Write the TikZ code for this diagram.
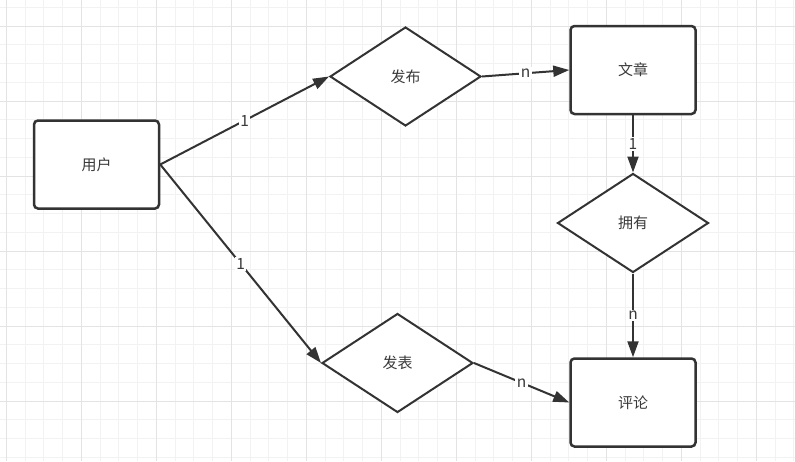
\documentclass[tikz,border=0pt]{standalone}
\usepackage{fontspec}
\setmainfont{Noto Sans CJK SC}
\usetikzlibrary{arrows.meta,shapes.geometric}
\definecolor{ink}{HTML}{333333}
\definecolor{txt}{HTML}{3A3A3A}
\definecolor{gridminor}{HTML}{F2F2F2}
\definecolor{gridmajor}{HTML}{E3E3E3}
\begin{document}
\begin{tikzpicture}[x=1pt,y=-1pt,
  entity/.style={draw=ink, line width=2.5pt, rounded corners=4pt, fill=white,
    minimum width=125pt, minimum height=88pt, inner sep=0pt,
    font=\fontsize{15}{18}\selectfont, text=txt},
  relation/.style={diamond, draw=ink, line width=2pt, fill=white,
    minimum width=151pt, minimum height=99pt, inner sep=0pt,
    font=\fontsize{15}{18}\selectfont, text=txt},
  conn/.style={draw=ink, line width=2pt, -{Triangle[length=16pt,width=11pt]}},
  lbl/.style={fill=white, inner sep=1.5pt, font=\fontsize{15.5}{18}\selectfont, text=txt},
  gminor/.style={draw=gridminor, line width=1pt},
  gmajor/.style={draw=gridmajor, line width=1pt}]
\fill[white] (0,0) rectangle (795,461);
\useasboundingbox (0,0) rectangle (795,461);
\foreach \i in {0,...,42} \draw[gminor] ({6.3+18.75*\i},0) -- ++(0,461);
\foreach \j in {0,...,24} \draw[gminor] (0,{7.3+18.75*\j}) -- ++(795,0);
\foreach \i in {0,...,10} \draw[gmajor] ({6.3+75*\i},0) -- ++(0,461);
\foreach \j in {0,...,6} \draw[gmajor] (0,{26.05+75*\j}) -- ++(795,0);

\node[entity] (user) at (96.5,164.5) {用户};
\node[entity] (article) at (633,70) {文章};
\node[entity] (comment) at (633,402.5) {评论};
\node[relation] (publish) at (405.5,76.5) {发布};
\node[relation] (own) at (633,223) {拥有};
\node[relation] (post) at (397.5,363) {发表};

\draw[conn] (user.east) -- node[lbl]{1} (publish.west);
\draw[conn] (user.east) -- node[lbl]{1} (post.west);
\draw[conn] (publish.east) -- node[lbl]{n} (article.west);
\draw[conn] (article.south) -- node[lbl]{1} (own.north);
\draw[conn] (own.south) -- node[lbl]{n} (comment.north);
\draw[conn] (post.east) -- node[lbl]{n} (comment.west);
\end{tikzpicture}
\end{document}
